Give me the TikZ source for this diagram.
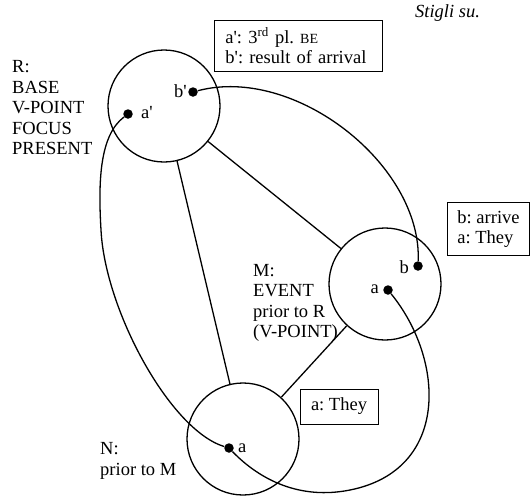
\documentclass[tikz,border=0pt]{standalone}
\usepackage{fontspec}
\setmainfont{Liberation Serif}
\newcommand\myq{\textquotesingle}
\frenchspacing
\begin{document}
\begin{tikzpicture}[x=1pt,y=-1pt,
  every node/.style={font=\fontsize{18.5}{20.5}\selectfont},
  ring/.style={draw, circle, line width=1.3pt, minimum size=112pt, inner sep=0pt},
  dot/.style={circle, fill, inner sep=0pt, minimum size=9.5pt},
  conn/.style={line width=1.3pt},
  box/.style={draw, line width=0.9pt, align=left, inner ysep=0pt},
  lbl/.style={align=left, inner sep=0pt},
  tag/.style={inner sep=0pt}]
\useasboundingbox (0,0) rectangle (530,496);
% circles
\node[ring] (R) at (164,106) {};
\node[ring] (M) at (385,284) {};
\node[ring] (N) at (243,439) {};
% dots
\node[dot] (ap) at (128,114) {};
\node[dot] (bp) at (193,92) {};
\node[dot] (b) at (418,266) {};
\node[dot] (am) at (388,290) {};
\node[dot] (an) at (229,448) {};
% way points
\coordinate (w1) at (101,230);
\coordinate (w2) at (350,490);
% straight connectors
\draw[conn] (R) -- (M);
\draw[conn] (R) -- (N);
\draw[conn] (M) -- (N);
% curves
\draw[conn] (bp) .. controls (295,65) and (422,165) .. (b);
\draw[conn] (ap) .. controls (100,135) and (98,180) .. (w1) .. controls (105,310) and (170,430) .. (an);
\draw[conn] (am) .. controls (445,360) and (450,470) .. (w2) .. controls (300,500) and (260,480) .. (an);
% dot tags
\node[tag, anchor=east] (tbp) at (187,91) {b\myq};
\node[tag, anchor=west] (tap) at (141,113) {a\myq};
\node[tag, anchor=east] (tb) at (409,267) {b};
\node[tag, anchor=east] (tam) at (379,289) {a};
\node[tag, anchor=west] (tan) at (238,448) {a};
% labels
\node[lbl, anchor=west] (Rl) at (12,108) {R:\\BASE\\V-POINT\\FOCUS\\PRESENT};
\node[lbl, anchor=west] (Ml) at (253,303) {M:\\EVENT\\prior to R\\(V-POINT)};
\node[lbl, anchor=west] (Nl) at (100,461) {N:\\prior to M};
% boxes
\node[box, anchor=north west, minimum height=51pt, text width=146pt, inner xsep=11pt] (B1) at (214,20)
  {a\myq: 3\textsuperscript{rd} pl. {\fontsize{14}{14}\selectfont BE}\\b\myq: result of arrival};
\node[box, anchor=north west, minimum height=53pt, inner xsep=10pt] (B2) at (447,202) {b: arrive\\a: They};
\node[box, minimum width=78pt, minimum height=35pt] (B3) at (339,406.5) {a: They};
% caption
\node[tag, anchor=west] (st) at (415,13) {\textit{Stigli su.}};
\end{tikzpicture}
\end{document}
